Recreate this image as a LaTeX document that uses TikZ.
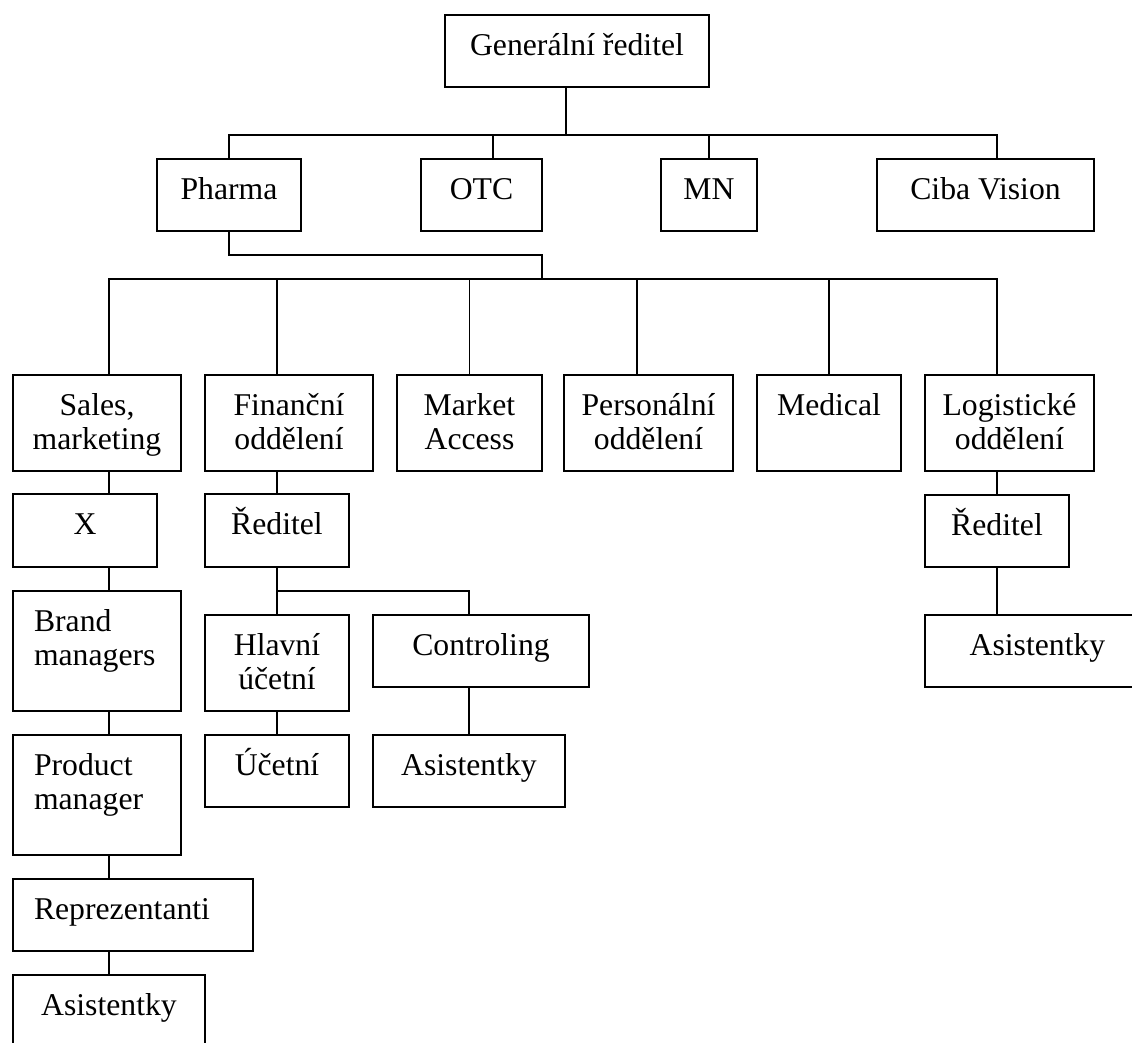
\documentclass[tikz,border=0pt]{standalone}
\usepackage{fontspec}
\setmainfont{Liberation Serif}

% box: name, left, top, right, bottom (y grows downwards)
\newcommand\bx[5]{\node[box, minimum width={(#4-#2)*1pt}, minimum height={(#5-#3)*1pt}, anchor=north west] (#1) at (#2,#3) {};}
% centred labels, one or two lines, hanging from the top edge
\newcommand\onel[2]{\path (#1.north) ++(0,40) node[txt,anchor=base] (#1-t) {#2};}
\newcommand\twol[3]{\path (#1.north) ++(0,40) node[txt,anchor=base] (#1-a) {#2} ++(0,34) node[txt,anchor=base] (#1-b) {#3};}
% left-set labels
\newcommand\lonel[2]{\path (#1.north west) ++(21,40) node[txt,anchor=base west] (#1-t) {#2};}
\newcommand\ltwol[3]{\path (#1.north west) ++(21,40) node[txt,anchor=base west] (#1-a) {#2} ++(0,34) node[txt,anchor=base west] (#1-b) {#3};}

\begin{document}
\begin{tikzpicture}[x=1pt,y=-1pt,
  box/.style={draw=black, line width=1.9pt, inner sep=0pt, outer sep=0pt},
  txt/.style={font=\fontsize{31.7}{34}\selectfont, inner sep=0pt, outer sep=0pt},
  wire/.style={draw=black, line width=1.9pt, line join=miter}]
\useasboundingbox (0,0) rectangle (1132,1042);
\clip (0,0) rectangle (1132,1042);

% top level
\bx{gen}{445}{15}{709}{87}            \onel{gen}{Generální ředitel}

% divisions
\bx{pharma}{157}{159}{301}{231}       \onel{pharma}{Pharma}
\bx{otc}{421}{159}{542}{231}          \onel{otc}{OTC}
\bx{mn}{661}{159}{757}{231}           \onel{mn}{MN}
\bx{ciba}{877}{159}{1094}{231}        \onel{ciba}{Ciba Vision}

% Pharma departments
\bx{sales}{13}{375}{181}{471}         \twol{sales}{Sales,}{marketing}
\bx{fin}{205}{375}{373}{471}          \twol{fin}{Finanční}{oddělení}
\bx{ma}{397}{375}{542}{471}           \twol{ma}{Market}{Access}
\bx{pers}{564}{375}{733}{471}         \twol{pers}{Personální}{oddělení}
\bx{med}{757}{375}{901}{471}          \onel{med}{Medical}
\bx{log}{925}{375}{1094}{471}         \twol{log}{Logistické}{oddělení}

% Sales, marketing chain
\bx{x}{13}{494}{157}{567}             \onel{x}{X}
\bx{brand}{13}{591}{181}{711}         \ltwol{brand}{Brand}{managers}
\bx{prod}{13}{735}{181}{855}          \ltwol{prod}{Product}{manager}
\bx{repr}{13}{879}{253}{951}          \lonel{repr}{Reprezentanti}
\bx{sas}{13}{975}{205}{1070}          \onel{sas}{Asistentky}

% finance chain
\bx{fred}{205}{494}{349}{567}         \onel{fred}{Ředitel}
\bx{hlav}{205}{615}{349}{711}         \twol{hlav}{Hlavní}{účetní}
\bx{uce}{205}{735}{349}{807}          \onel{uce}{Účetní}
\bx{ctrl}{373}{615}{589}{687}         \onel{ctrl}{Controling}
\bx{cas}{373}{735}{565}{807}          \onel{cas}{Asistentky}

% logistics chain
\bx{lred}{925}{495}{1069}{567}        \onel{lred}{Ředitel}
\bx{las}{925}{615}{1150}{687}         \onel{las}{Asistentky}

% bus points
\coordinate (top) at (566,135);
\coordinate (b1l) at (229,135);
\coordinate (b1r) at (997,135);
\coordinate (otcd) at (493,135);
\coordinate (step) at (542,255);
\coordinate (b2l) at (109,279);
\coordinate (b2r) at (997,279);
\coordinate (find) at (277,279);
\coordinate (persd) at (637,279);
\coordinate (cbus) at (469,591);

% connectors, first level
\draw[wire] (gen.south -| top) -- (top);
\draw[wire] (pharma.north) -- (b1l) -- (b1r) -- (b1r |- ciba.north);
\draw[wire] (otcd) -- (otcd |- otc.north);
\draw[wire] (mn.north |- b1l) -- (mn.north);

% Pharma to its departments
\draw[wire] (pharma.south) -- (pharma.south |- step) -- (step) -- (step |- b2l);
\draw[wire] (b2l |- sales.north) -- (b2l) -- (b2r) -- (b2r |- log.north);
\draw[wire] (find) -- (find |- fin.north);
\draw[wire] (ma.north |- b2l) -- (ma.north);
\draw[wire] (persd) -- (persd |- pers.north);
\draw[wire] (med.north |- b2l) -- (med.north);

% Sales, marketing chain
\draw[wire] (b2l |- sales.south) -- (b2l |- x.north);
\draw[wire] (b2l |- x.south) -- (b2l |- brand.north);
\draw[wire] (b2l |- brand.south) -- (b2l |- prod.north);
\draw[wire] (b2l |- prod.south) -- (b2l |- repr.north);
\draw[wire] (b2l |- repr.south) -- (b2l |- sas.north);

% finance chain
\draw[wire] (fred.north |- fin.south) -- (fred.north);
\draw[wire] (fred.south) -- (hlav.north);
\draw[wire] (fred.south |- cbus) -- (cbus) -- (cbus |- ctrl.north);
\draw[wire] (hlav.south) -- (uce.north);
\draw[wire] (cbus |- ctrl.south) -- (cas.north);

% logistics chain
\draw[wire] (lred.north |- log.south) -- (lred.north);
\draw[wire] (lred.south) -- (lred.south |- las.north);
\end{tikzpicture}
\end{document}
